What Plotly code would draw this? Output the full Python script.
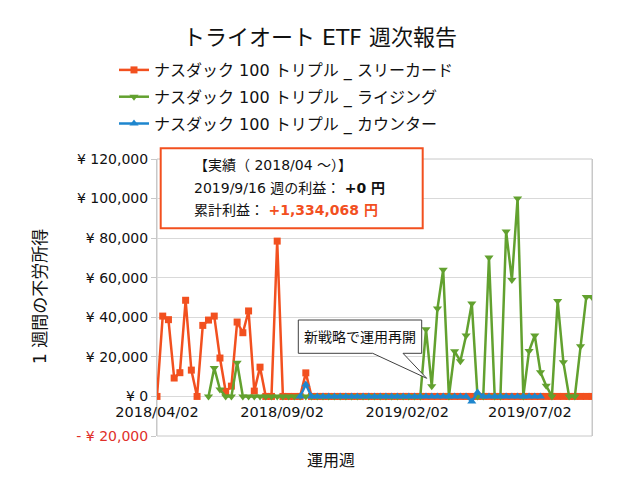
import pandas as pd
import plotly.graph_objects as go

# ---------------- data ----------------
weeks = pd.date_range("2018-04-02", periods=77, freq="7D")

three_card = [0, 40600, 38800, 9300, 12000, 48600, 13300, 0, 35900, 38600,
              40600, 19400, 2500, 5200, 37600, 32200, 43200, 2700, 14800, 0,
              0, 78500, 0, 0, 0, 0, 11900] + [0] * 50

rising = [None] * 9 + [0, 14400, 3500, 0, 0, 17000] + [0] * 32 + \
         [33900, 5100, 44400, 64000, 0, 22800, 17800, 30800, 47000, 0,
          0, 70200, 0, 0, 83400, 58900, 100000, 0, 22900, 30800,
          12200, 5400, 0, 48200, 17300, 0, 0, 25400, 50300, 50300]

counter = [None] * 25 + [0, 6000] + [0] * 28 + [-2500, 2000] + [0] * 11 + [None] * 9

series_names = ["ナスダック 100 トリプル _ スリーカード",
                "ナスダック 100 トリプル _ ライジング",
                "ナスダック 100 トリプル _ カウンター"]

y_tickvals = [-20000, 0, 20000, 40000, 60000, 80000, 100000, 120000]
y_ticktext = ["<span style='color:#E0302A'>- ¥ 20,000</span>", "¥ 0", "¥ 20,000",
              "¥ 40,000", "¥ 60,000", "¥ 80,000", "¥ 100,000", "¥ 120,000"]

x_tickvals = ["2018-04-02", "2018-09-02", "2019-02-02", "2019-07-02"]
x_ticktext = ["2018/04/02", "2018/09/02", "2019/02/02", "2019/07/02"]

# ---------------- style ----------------
FONT = "DejaVu Sans, Noto Sans CJK JP, sans-serif"
ORANGE = "#F2501F"
GREEN = "#62A12F"
BLUE = "#1E86CE"
W, H = 640, 480
L, R, T, B = 157, 48, 159, 44
PW, PH = W - L - R, H - T - B
YMIN, YMAX = -20000, 120000


def fx(px):
    return (px - L) / PW


def fy(py):
    return (H - B - py) / PH


fig = go.Figure()
styles = [(ORANGE, "square", 7), (GREEN, "triangle-down", 8), (BLUE, "triangle-up", 8)]
for name, vals, (col, sym, size) in zip(series_names, [three_card, rising, counter], styles):
    fig.add_trace(go.Scatter(
        x=weeks, y=vals, name=name, mode="lines+markers", legendgroup=name,
        line=dict(color=col, width=2.5),
        marker=dict(color=col, symbol=sym, size=size),
        connectgaps=False,
    ))

shapes = [
    # plot border
    dict(type="rect", xref="paper", yref="paper", x0=0, x1=1, y0=0, y1=1,
         line=dict(color="#C8C8C8", width=1), layer="below"),
    # result box
    dict(type="rect", xref="paper", yref="paper",
         x0=fx(160.7), x1=fx(422.7), y0=fy(228.3), y1=fy(148.3),
         line=dict(color=ORANGE, width=2), fillcolor="white", layer="above"),
    # callout
    dict(type="path", xref="paper", yref="paper",
         path=("M {a},{t} L {b},{t} L {b},{bt} L {w2},{bt} L {tx},{ty} L {w1},{bt} L {a},{bt} Z"
               .format(a=fx(298.3), b=fx(421.7), t=fy(320), bt=fy(353.3),
                       w1=fx(372.7), w2=fx(403), tx=fx(426.7), ty=fy(378.3))),
         line=dict(color="#404040", width=1), fillcolor="white", layer="above"),
]

annotations = [
    dict(xref="paper", yref="paper", x=fx(192), y=fy(165), xanchor="left", yanchor="middle",
         text="【実績（ 2018/04 ～）】", showarrow=False, font=dict(size=14, color="#111")),
    dict(xref="paper", yref="paper", x=fx(192), y=fy(188), xanchor="left", yanchor="middle",
         text="2019/9/16 週の利益： <b>+0 円</b>", showarrow=False, font=dict(size=14, color="#111")),
    dict(xref="paper", yref="paper", x=fx(192), y=fy(210), xanchor="left", yanchor="middle",
         text="累計利益： <b><span style='color:%s'>+1,334,068 円</span></b>" % ORANGE,
         showarrow=False, font=dict(size=14, color="#111")),
    dict(xref="paper", yref="paper", x=fx(360), y=fy(336.5), xanchor="center", yanchor="middle",
         text="新戦略で運用再開", showarrow=False, font=dict(size=14, color="#111")),
    # axis titles
    dict(xref="paper", yref="paper", x=fx(331), y=fy(460), xanchor="center", yanchor="middle",
         text="運用週", showarrow=False, font=dict(size=16, color="#111")),
    dict(xref="paper", yref="paper", x=fx(40), y=fy(297), xanchor="center", yanchor="middle",
         text="1 週間の不労所得", textangle=-90, showarrow=False, font=dict(size=17, color="#111")),
]

fig.update_layout(
    width=W, height=H,
    margin=dict(l=L, r=R, t=T, b=B, autoexpand=False),
    paper_bgcolor="white", plot_bgcolor="white",
    font=dict(family=FONT, color="#111"),
    title=dict(text="トライオート ETF 週次報告", x=0.5, xref="container", xanchor="center",
               y=1 - 37 / H, yref="container", yanchor="middle",
               font=dict(size=22, color="#111")),
    showlegend=True,
    legend=dict(xref="container", yref="container", x=114 / W, y=1 - 53 / H,
                xanchor="left", yanchor="top", font=dict(size=16, color="#111"),
                traceorder="grouped", tracegroupgap=3, itemwidth=30,
                bgcolor="rgba(0,0,0,0)"),
    xaxis=dict(type="date", range=[weeks[0], weeks[-1]],
               tickvals=x_tickvals, ticktext=x_ticktext, tickangle=0,
               showgrid=False, showline=False, zeroline=False, ticks="",
               anchor="free", position=(0 - YMIN) / (YMAX - YMIN),
               ticklabelstandoff=5,
               tickfont=dict(size=14.5, color="#111")),
    yaxis=dict(range=[YMIN, YMAX], tickvals=y_tickvals, ticktext=y_ticktext,
               showgrid=True, gridcolor="#D9D9D9", gridwidth=1, zeroline=False,
               showline=True, linecolor="#C8C8C8", mirror=True,
               ticks="outside", ticklen=5, tickcolor="#C8C8C8",
               tickfont=dict(size=14, color="#111")),
    shapes=shapes, annotations=annotations,
)

fig.write_html("out.html", config={"displayModeBar": False},
               post_script="document.body.style.margin='0';document.body.style.overflow='hidden';")
